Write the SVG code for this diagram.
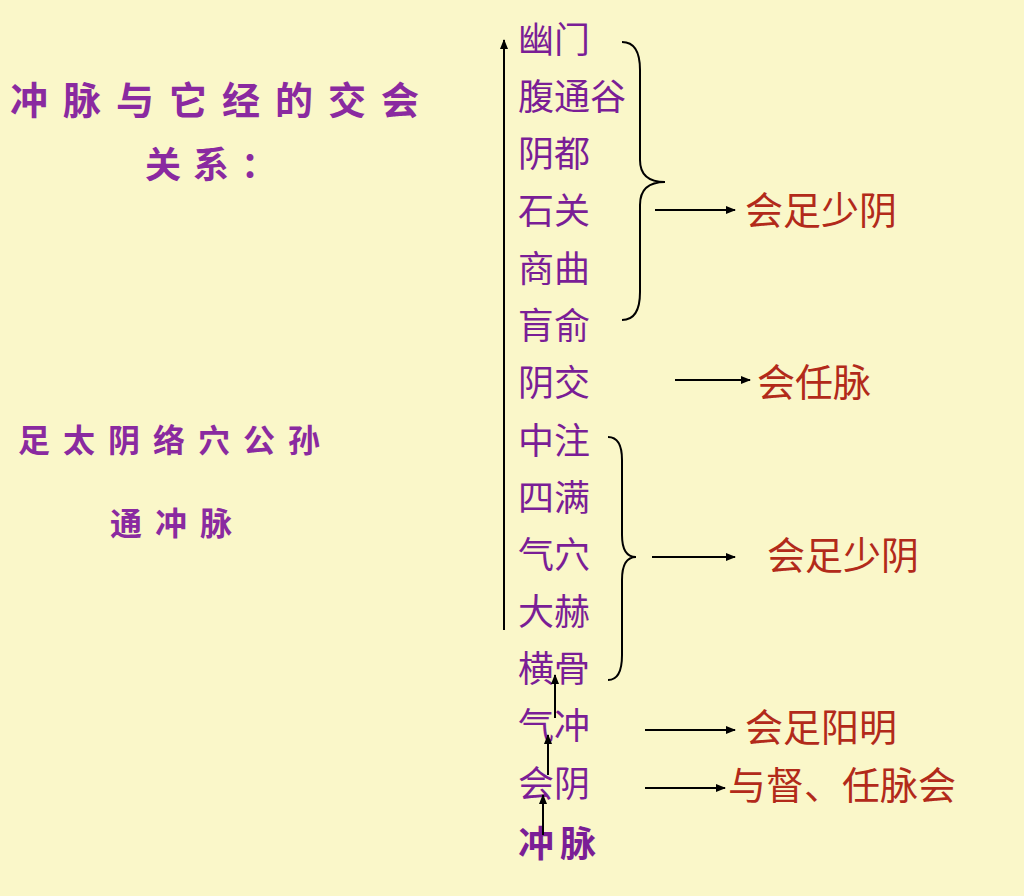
<svg xmlns="http://www.w3.org/2000/svg" width="1024" height="896" viewBox="0 0 1024 896">
<style>
.p{fill:#7a1e96;font-family:"Noto Sans CJK SC",sans-serif;font-size:36px}
.b{fill:#8a2aa0;font-family:"Noto Sans CJK SC",sans-serif;font-weight:bold}
.r{fill:#b22a1a;font-family:"Noto Sans CJK SC",sans-serif;font-size:38px}
.l{stroke:#000;stroke-width:2;fill:none}
</style>
<defs><marker id="a" markerWidth="10" markerHeight="8" refX="9" refY="4" orient="auto" markerUnits="userSpaceOnUse"><path d="M0,0L10,4L0,8z" fill="#000"/></marker></defs>
<rect width="1024" height="896" fill="#faf7c9"/>
<g id="title"><text class="b" x="10" y="114" font-size="38" letter-spacing="15">冲脉与它经的交会</text><text class="b" x="145" y="178" font-size="36" letter-spacing="12">关系：</text></g>
<g id="note"><text class="b" x="18" y="452" font-size="32" letter-spacing="13">足太阴络穴公孙</text><text class="b" x="110" y="535" font-size="32" letter-spacing="13">通冲脉</text></g>
<g id="points">
<text class="p" x="518" y="53">幽门</text><text class="p" x="518" y="110">腹通谷</text><text class="p" x="518" y="167">阴都</text><text class="p" x="518" y="224">石关</text><text class="p" x="518" y="282">商曲</text><text class="p" x="518" y="339">肓俞</text><text class="p" x="518" y="396">阴交</text><text class="p" x="518" y="454">中注</text><text class="p" x="518" y="511">四满</text><text class="p" x="518" y="568">气穴</text><text class="p" x="518" y="625">大赫</text><text class="p" x="518" y="682">横骨</text><text class="p" x="518" y="739">气冲</text><text class="p" x="518" y="797">会阴</text>
<text class="p" x="518" y="857" font-size="30" font-weight="bold" letter-spacing="6">冲脉</text>
</g>
<g id="targets">
<text class="r" x="745" y="224">会足少阴</text><text class="r" x="757" y="396">会任脉</text><text class="r" x="767" y="569">会足少阴</text><text class="r" x="745" y="741">会足阳明</text><text class="r" x="728" y="799">与督、任脉会</text>
</g>
<g id="connectors">
<path class="l" d="M504,630V40" marker-end="url(#a)"/>
<path class="l" d="M622,42Q640,42 640,70V160Q640,182 665,182Q640,182 640,205V292Q640,320 622,320"/>
<path class="l" d="M608,437Q622,437 622,460V535Q622,557 636,557Q622,557 622,580V655Q622,680 608,680"/>
<path class="l" d="M655,210H735" marker-end="url(#a)"/>
<path class="l" d="M675,380H750" marker-end="url(#a)"/>
<path class="l" d="M652,557H735" marker-end="url(#a)"/>
<path class="l" d="M645,730H735" marker-end="url(#a)"/>
<path class="l" d="M645,788H725" marker-end="url(#a)"/>
<path class="l" d="M555,718V675" marker-end="url(#a)"/>
<path class="l" d="M548,775V735" marker-end="url(#a)"/>
<path class="l" d="M543,835V795" marker-end="url(#a)"/>
</g>
</svg>
